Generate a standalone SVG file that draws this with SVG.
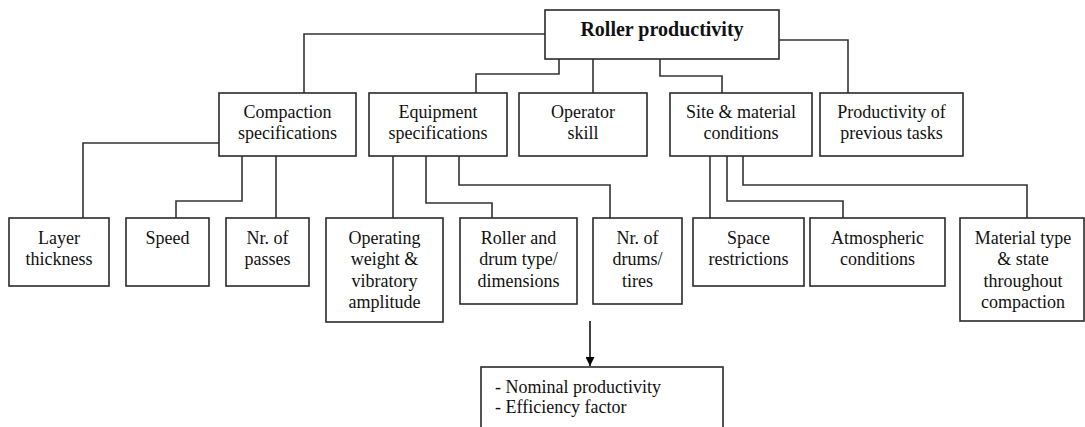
<svg xmlns="http://www.w3.org/2000/svg" width="1085" height="427" viewBox="0 0 1085 427">
<defs>
<style>
.box{fill:#fff;stroke:#2a2a2a;stroke-width:1.6}
.t{font-family:"Liberation Serif","Times New Roman",serif;font-size:18px;fill:#111;text-anchor:middle}
.tl{font-family:"Liberation Serif","Times New Roman",serif;font-size:18px;fill:#111}
.b{font-weight:bold;font-size:20px}
.c{fill:none;stroke:#333;stroke-width:1.6}
</style>
<marker id="ah" viewBox="0 0 10 10" refX="10" refY="5" markerWidth="9" markerHeight="9" markerUnits="userSpaceOnUse" orient="auto">
<path d="M0,0 L10,5 L0,10 Z" fill="#000"/>
</marker>
</defs>
<rect width="1085" height="427" fill="#fff"/>
<g id="connectors">
<path class="c" d="M545,34 H304 V93"/>
<path class="c" d="M559,59 V74 H476 V93"/>
<path class="c" d="M593,59 V93"/>
<path class="c" d="M660,59 V76 H722 V93"/>
<path class="c" d="M779,40 H848 V93"/>
<path class="c" d="M219,143 H83 V218"/>
<path class="c" d="M242,156 V201 H176 V218"/>
<path class="c" d="M276,156 V218"/>
<path class="c" d="M393,156 V218"/>
<path class="c" d="M426,156 V203 H492 V218"/>
<path class="c" d="M459,156 V185 H610 V218"/>
<path class="c" d="M710,156 V218"/>
<path class="c" d="M727,156 V201 H843 V218"/>
<path class="c" d="M743,156 V185 H1027 V218"/>
<path d="M590,321 V366" fill="none" stroke="#000" stroke-width="1.5" marker-end="url(#ah)"/>
</g>
<g id="roller">
<rect class="box" x="545" y="10" width="234" height="49"/>
<text class="t b" x="662" y="36">Roller productivity</text>
</g>
<g id="compaction">
<rect class="box" x="219" y="93" width="137" height="63"/>
<text class="t" x="287.5" y="118">Compaction</text>
<text class="t" x="287.5" y="139">specifications</text>
</g>
<g id="equipment">
<rect class="box" x="369" y="93" width="138" height="63"/>
<text class="t" x="438" y="118">Equipment</text>
<text class="t" x="438" y="139">specifications</text>
</g>
<g id="operator">
<rect class="box" x="519" y="93" width="128" height="63"/>
<text class="t" x="583" y="118">Operator</text>
<text class="t" x="583" y="139">skill</text>
</g>
<g id="site">
<rect class="box" x="670" y="93" width="142" height="63"/>
<text class="t" x="741" y="118">Site &amp; material</text>
<text class="t" x="741" y="139">conditions</text>
</g>
<g id="previous">
<rect class="box" x="820" y="93" width="143" height="63"/>
<text class="t" x="891.5" y="118">Productivity of</text>
<text class="t" x="891.5" y="139">previous tasks</text>
</g>
<g id="layer">
<rect class="box" x="9" y="218" width="100" height="68"/>
<text class="t" x="59" y="244">Layer</text>
<text class="t" x="59" y="265">thickness</text>
</g>
<g id="speed">
<rect class="box" x="126" y="218" width="83" height="68"/>
<text class="t" x="167.5" y="244">Speed</text>
</g>
<g id="passes">
<rect class="box" x="226" y="218" width="83" height="68"/>
<text class="t" x="267.5" y="244">Nr. of</text>
<text class="t" x="267.5" y="265">passes</text>
</g>
<g id="weight">
<rect class="box" x="326" y="218" width="117" height="104"/>
<text class="t" x="384.5" y="244">Operating</text>
<text class="t" x="384.5" y="265">weight &amp;</text>
<text class="t" x="384.5" y="287">vibratory</text>
<text class="t" x="384.5" y="308">amplitude</text>
</g>
<g id="drumtype">
<rect class="box" x="460" y="218" width="117" height="86"/>
<text class="t" x="518.5" y="244">Roller and</text>
<text class="t" x="518.5" y="265">drum type/</text>
<text class="t" x="518.5" y="287">dimensions</text>
</g>
<g id="drums">
<rect class="box" x="593" y="218" width="89" height="86"/>
<text class="t" x="637.5" y="244">Nr. of</text>
<text class="t" x="637.5" y="265">drums/</text>
<text class="t" x="637.5" y="287">tires</text>
</g>
<g id="space">
<rect class="box" x="693" y="218" width="111" height="68"/>
<text class="t" x="748.5" y="244">Space</text>
<text class="t" x="748.5" y="265">restrictions</text>
</g>
<g id="atmospheric">
<rect class="box" x="810" y="218" width="135" height="68"/>
<text class="t" x="877.5" y="244">Atmospheric</text>
<text class="t" x="877.5" y="265">conditions</text>
</g>
<g id="material">
<rect class="box" x="960" y="218" width="124" height="103"/>
<text class="t" x="1023" y="244">Material type</text>
<text class="t" x="1023" y="265">&amp; state</text>
<text class="t" x="1023" y="287">throughout</text>
<text class="t" x="1023" y="308">compaction</text>
</g>
<g id="output">
<rect class="box" x="481" y="367" width="242" height="80"/>
<text class="tl" x="495" y="393">- Nominal productivity</text>
<text class="tl" x="495" y="413">- Efficiency factor</text>
</g>
</svg>
